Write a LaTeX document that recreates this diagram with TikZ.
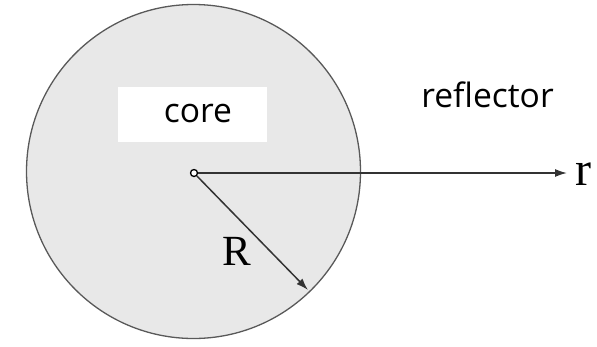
\documentclass[tikz,border=0pt]{standalone}
\usepackage{fontspec}
\setsansfont{Open Sans}
\newfontfamily\symfont{Liberation Serif}
\usetikzlibrary{arrows.meta,positioning}

\begin{document}
\begin{tikzpicture}[x=1pt, y=-1pt,
        txt/.style={font=\sffamily\fontsize{33.6}{40}\selectfont, inner sep=0pt},
        mathlbl/.style={font=\symfont\fontsize{43}{50}\selectfont, inner sep=0pt},
        arrow/.style={-{Latex[length=12pt,width=8pt]}, line width=1.5pt, draw=black!80}
    ]
        \useasboundingbox (0,0) rectangle (597,346);
        \node[circle, draw=black!65, fill=gray!18, line width=1.3pt, minimum size=334pt, inner sep=0pt] (core) at (193.5,171.5) {};
        \node[fill=white, minimum width=149pt, minimum height=55pt, inner sep=0pt] (box) at (192.5,114.5) {};
        \node[txt, anchor=base] (corelbl) at (198,122) {core};
        \node[txt, anchor=base] (refl) at (487.5,107) {reflector};

        \node[circle, draw, fill=white, line width=1.3pt, minimum size=7pt, inner sep=0pt] (ctr) at (194,173) {};
        \coordinate (rend) at (567,173);
        \coordinate (Rend) at (308,290);
        \node[mathlbl, anchor=base west, font=\symfont\fontsize{48}{56}\selectfont] (rlbl) at (575,185) {r};
        \node[mathlbl, anchor=base] (Rlbl) at (236.5,265) {R};

        \draw[arrow] (ctr) -- (rend);
        \draw[arrow] (ctr) -- (Rend);
    \end{tikzpicture}
\end{document}
